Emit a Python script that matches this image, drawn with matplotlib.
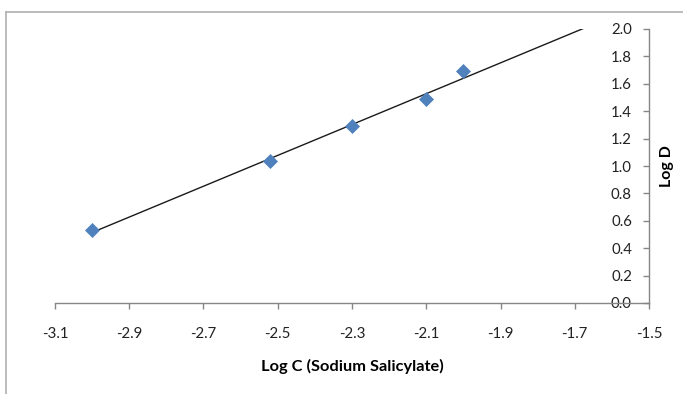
import numpy as np
import matplotlib
matplotlib.use("Agg")
import matplotlib.pyplot as plt
from matplotlib.lines import Line2D

# data
log_c = [-3.0, -2.52, -2.3, -2.1, -2.0]
log_d = [0.53, 1.04, 1.29, 1.49, 1.69]
x_ticks = [-3.1, -2.9, -2.7, -2.5, -2.3, -2.1, -1.9, -1.7, -1.5]
y_ticks = [0.0, 0.2, 0.4, 0.6, 0.8, 1.0, 1.2, 1.4, 1.6, 1.8, 2.0]

plt.rcParams["font.family"] = ["Lato", "DejaVu Sans"]
axis_gray = "#868686"

fig = plt.figure(figsize=(6.83, 3.94), dpi=100)
ax = fig.add_axes([55 / 683, 1 - 303 / 394, 594 / 683, 274 / 394])

# linear trendline (Excel style), extended forward and clipped at the axes
slope, icpt = np.polyfit(log_c, log_d, 1)
xs = np.array([min(log_c), x_ticks[-1]])
ax.plot(xs, slope * xs + icpt, color="#1a1a1a", lw=1.0, zorder=2)
ax.plot(log_c, log_d, "D", color="#4F81BD", ms=7.5, mec="#4F81BD", mew=0.5,
        zorder=3, clip_on=False)

ax.set_xlim(x_ticks[0], x_ticks[-1])
ax.set_ylim(y_ticks[0], y_ticks[-1])
ax.set_xticks(x_ticks)
ax.set_yticks(y_ticks)
ax.set_xticklabels([f"{v:.1f}" for v in x_ticks])
ax.set_yticklabels([f"{v:.1f}" for v in y_ticks])

for s in ("top", "right"):
    ax.spines[s].set_visible(False)
ax.spines["left"].set_position(("data", x_ticks[-1]))
ax.spines["bottom"].set_position(("data", 0.0))
for s in ("left", "bottom"):
    ax.spines[s].set_color(axis_gray)
    ax.spines[s].set_linewidth(1.0)

ax.tick_params(axis="both", direction="out", width=1.0,
               color=axis_gray, labelsize=10.8, labelcolor="#222222")
ax.tick_params(axis="x", length=4, pad=13)
ax.tick_params(axis="y", length=4.3, pad=8)

ax.set_xlabel("Log C (Sodium Salicylate)", fontsize=11.8, fontweight="bold",
              labelpad=13)
ax.yaxis.set_label_position("right")
ax.set_ylabel("Log D", fontsize=11.5, fontweight="bold", labelpad=8)

# chart area border (only top and left visible in the crop)
border = "#b0b0b0"
fig.add_artist(Line2D([6 / 683, 1.0], [1 - 12 / 394, 1 - 12 / 394],
                      transform=fig.transFigure, color=border, lw=1.2))
fig.add_artist(Line2D([6 / 683, 6 / 683], [0.0, 1 - 12 / 394],
                      transform=fig.transFigure, color=border, lw=1.2))

fig.savefig("out.png", dpi=100)
